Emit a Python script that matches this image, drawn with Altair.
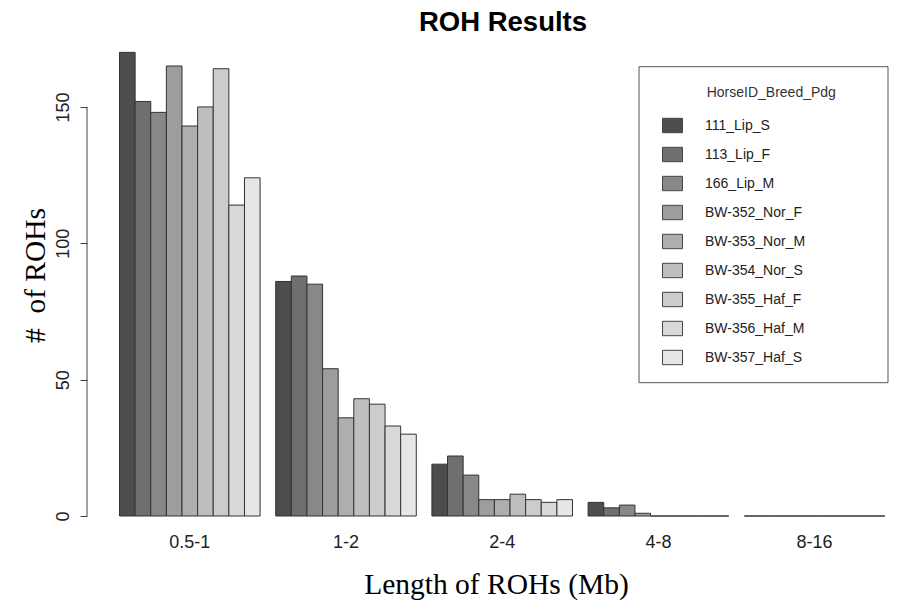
import altair as alt
import pandas as pd

categories = ["0.5-1", "1-2", "2-4", "4-8", "8-16"]
horses = ["111_Lip_S", "113_Lip_F", "166_Lip_M", "BW-352_Nor_F", "BW-353_Nor_M",
          "BW-354_Nor_S", "BW-355_Haf_F", "BW-356_Haf_M", "BW-357_Haf_S"]

v_111_Lip_S = [170, 86, 19, 5, 0]
v_113_Lip_F = [152, 88, 22, 3, 0]
v_166_Lip_M = [148, 85, 15, 4, 0]
v_BW352_Nor_F = [165, 54, 6, 1, 0]
v_BW353_Nor_M = [143, 36, 6, 0, 0]
v_BW354_Nor_S = [150, 43, 8, 0, 0]
v_BW355_Haf_F = [164, 41, 6, 0, 0]
v_BW356_Haf_M = [114, 33, 5, 0, 0]
v_BW357_Haf_S = [124, 30, 6, 0, 0]

greys = ["#4d4d4d", "#6f6f6f", "#888888", "#9d9d9d", "#aeaeae",
         "#bebebe", "#cccccc", "#d9d9d9", "#e6e6e6"]
y_ticks = [0, 50, 100, 150]
axis_span = {"y0": [0], "y1": [150]}

series = [v_111_Lip_S, v_113_Lip_F, v_166_Lip_M, v_BW352_Nor_F, v_BW353_Nor_M,
          v_BW354_Nor_S, v_BW355_Haf_F, v_BW356_Haf_M, v_BW357_Haf_S]
rows = []
for h, vals in zip(horses, series):
    for c, v in zip(categories, vals):
        rows.append({"Length": c, "Horse": h, "Count": v})
df = pd.DataFrame(rows)

W = 802
H = 480

bars = alt.Chart(df).mark_bar(stroke="#333333", strokeWidth=1, opacity=1).encode(
    x=alt.X("Length:N", sort=categories,
            scale=alt.Scale(paddingInner=0.1, paddingOuter=0.1172, align=0.888, round=False),
            axis=alt.Axis(title="Length of ROHs (Mb)", labelAngle=0, ticks=False, domain=False,
                          labelFontSize=18, labelFont="Liberation Sans", labelColor="#222222",
                          labelPadding=17,
                          titleFont="Liberation Serif", titleFontSize=29.5, titleFontWeight="normal",
                          titleColor="#000000", titleX=409, titleY=77, titleAlign="center",
                          titleBaseline="alphabetic", titleAngle=0)),
    xOffset=alt.XOffset("Horse:N", sort=horses,
                        scale=alt.Scale(paddingInner=0, paddingOuter=0)),
    y=alt.Y("Count:Q", scale=alt.Scale(domain=[0, 176], nice=False),
            axis=alt.Axis(title="#\u00a0 of ROHs", values=y_ticks, grid=False, domain=False,
                          tickSize=7, tickColor="#444444", labelAngle=270, labelAlign="center",
                          labelBaseline="alphabetic", labelPadding=12, labelFontSize=18,
                          labelFont="Liberation Sans", labelColor="#222222",
                          titleFont="Liberation Serif", titleFontSize=29.5, titleFontWeight="normal",
                          titleColor="#000000", titleAngle=270, titleX=-43, titleY=239,
                          titleAlign="center", titleBaseline="alphabetic")),
    color=alt.Color("Horse:N", sort=horses,
                    scale=alt.Scale(domain=horses, range=greys),
                    legend=alt.Legend(title=None, orient="none", legendX=575, legendY=79,
                                      symbolType="M-1,-0.72H1V0.72H-1Z", symbolSize=400,
                                      symbolStrokeColor="#444444", symbolStrokeWidth=1,
                                      symbolOpacity=1, labelFontSize=14,
                                      labelFont="Liberation Sans", labelColor="#222222",
                                      labelOffset=22, rowPadding=9, padding=0)),
)

one = pd.DataFrame({"a": [0]})

yline = alt.Chart(pd.DataFrame(axis_span)).mark_rule(color="#444444", strokeWidth=1).encode(
    x=alt.value(0), y="y0:Q", y2="y1:Q"
)

legend_box = alt.Chart(one).mark_rect(fill="white", stroke="#555555", strokeWidth=1).encode(
    x=alt.value(552), x2=alt.value(801), y=alt.value(30.7), y2=alt.value(346.7)
)

legend_title = alt.Chart(one).mark_text(
    text="HorseID_Breed_Pdg", font="Liberation Sans", fontSize=14, color="#333333",
    align="left", baseline="alphabetic"
).encode(x=alt.value(619.7), y=alt.value(61.3))

main_title = alt.Chart(one).mark_text(
    text="ROH Results", font="Liberation Sans", fontSize=27.5, fontWeight="bold",
    color="#000000", align="center", baseline="alphabetic"
).encode(x=alt.value(416), y=alt.value(-5))

chart = alt.layer(legend_box, bars, yline, legend_title, main_title).properties(
    width=W, height=H,
    background="white",
    autosize=alt.AutoSizeParams(type="none"),
    padding={"left": 79, "top": 28, "right": 0, "bottom": 88},
).configure_view(strokeWidth=0, stroke="transparent")

chart.save("out.html", embed_options={"renderer": "svg", "actions": False})
